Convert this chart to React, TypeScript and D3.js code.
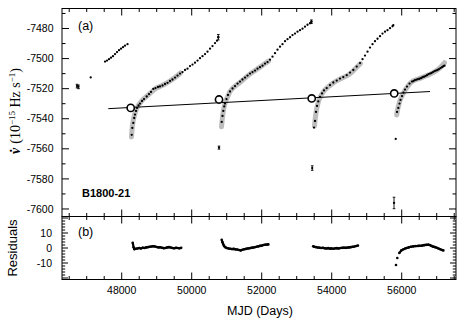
import React from "react";
import * as d3 from "d3";

const W = 466, H = 326;
const L = 62, R = 456, TA = 8.5, BA = 216.5, BB = 279.5;

// ---- data (MJD, nu-dot in 1e-15 Hz/s) ----
const seg0: [number, number][] = [
  [47114, -7512.5],
  [47523, -7502.0], [47580, -7501.3], [47637, -7500.4], [47694, -7499.4], [47751, -7498.4],
  [47809, -7497.0], [47866, -7495.7], [47923, -7494.4], [47980, -7493.4], [48037, -7492.4],
  [48094, -7491.4], [48166, -7490.4],
];
const seg1: [number, number][] = [
  [48286, -7550.7], [48303, -7546.1], [48331, -7542.8], [48357, -7539.5], [48380, -7537.2],
  [48409, -7534.8], [48437, -7532.8], [48480, -7531.2], [48523, -7529.9], [48580, -7528.2],
  [48637, -7526.9], [48714, -7525.2], [48780, -7523.6], [48837, -7522.2], [48903, -7520.2],
  [48966, -7519.6], [49037, -7518.9], [49094, -7518.5], [49166, -7517.9], [49237, -7516.9],
  [49309, -7516.1], [49380, -7514.9], [49451, -7513.9], [49523, -7512.6], [49594, -7511.3],
  [49666, -7510.0], [49737, -7509.0], [49809, -7507.6], [49880, -7506.7], [49951, -7505.0],
  [50023, -7504.0], [50094, -7502.7], [50166, -7501.3], [50237, -7499.7], [50309, -7498.4],
  [50380, -7497.0], [50451, -7495.4], [50523, -7493.4], [50594, -7491.7], [50666, -7489.7],
  [50723, -7488.1], [50760, -7485.8],
];
const seg2: [number, number][] = [
  [50857, -7542.1], [50880, -7538.1], [50903, -7534.8], [50929, -7531.8], [50951, -7529.9],
  [50994, -7526.9], [51037, -7524.2], [51094, -7521.9], [51166, -7519.9], [51237, -7518.3],
  [51309, -7516.6], [51380, -7515.3], [51451, -7513.9], [51523, -7512.6], [51594, -7511.3],
  [51666, -7510.0], [51737, -7509.0], [51809, -7508.0], [51880, -7506.7], [51951, -7505.7],
  [52023, -7504.7], [52094, -7503.3], [52166, -7502.3], [52237, -7500.7], [52309, -7498.7],
  [52380, -7496.4], [52451, -7494.1], [52523, -7492.1], [52594, -7490.4], [52666, -7488.4],
  [52737, -7487.1], [52809, -7485.8], [52880, -7484.4], [52951, -7483.4], [53023, -7482.1],
  [53094, -7481.1], [53166, -7480.1], [53237, -7478.8], [53309, -7477.5], [53380, -7476.5],
  [53420, -7475.5],
];
const seg3: [number, number][] = [
  [53494, -7545.9], [53523, -7541.5], [53551, -7535.5], [53580, -7531.5], [53617, -7528.5],
  [53666, -7525.5], [53723, -7523.2], [53780, -7521.2], [53857, -7519.6], [53951, -7517.6],
  [54046, -7515.9], [54143, -7514.6], [54237, -7513.3], [54331, -7512.3], [54429, -7511.0],
  [54523, -7509.3], [54617, -7507.6], [54714, -7505.3], [54809, -7503.0], [54880, -7500.4],
  [54951, -7498.0], [55023, -7495.4], [55094, -7492.7], [55166, -7490.4], [55237, -7488.4],
  [55309, -7486.8], [55380, -7485.1], [55451, -7483.4], [55523, -7482.1], [55594, -7481.1],
  [55666, -7479.8], [55737, -7478.5], [55760, -7477.8],
];
const seg4: [number, number][] = [
  [55829, -7553.4], [55866, -7535.5], [55903, -7532.8], [55937, -7529.9], [55966, -7527.5],
  [56009, -7524.9], [56051, -7522.6], [56094, -7520.6], [56151, -7518.6], [56223, -7516.6],
  [56294, -7515.3], [56337, -7514.9], [56380, -7514.3], [56423, -7514.0], [56466, -7513.6],
  [56509, -7513.4], [56551, -7513.0], [56594, -7512.4], [56637, -7512.0], [56680, -7511.6],
  [56723, -7511.0], [56766, -7510.4], [56809, -7510.0], [56851, -7509.6], [56894, -7509.0],
  [56937, -7508.4], [56980, -7508.0], [57023, -7507.6], [57066, -7507.0], [57109, -7506.3],
  [57151, -7505.7], [57190, -7505.1], [57223, -7504.7],
];
// points with error bars: [MJD, nu-dot, error]
const errPoints: [number, number, number][] = [
  [46723, -7518.3, 1.2], [46766, -7518.8, 1.2],
  [50780, -7559.2, 1.0], [53443, -7572.8, 1.5], [55780, -7596.0, 3.8],
  [50760, -7485.8, 1.8], [53420, -7475.5, 1.2],
];
// grey model curves after each glitch
const fit1: [number, number][] = [
  [48280, -7552.1], [48294, -7547.4], [48323, -7542.1], [48366, -7537.5], [48423, -7533.5],
  [48494, -7530.5], [48580, -7527.9], [48694, -7525.5], [48809, -7523.2], [48951, -7520.2],
  [49094, -7518.5], [49237, -7516.9], [49380, -7514.9], [49523, -7512.6], [49680, -7509.6],
];
const fit2: [number, number][] = [
  [50851, -7545.4], [50871, -7540.8], [50903, -7534.8], [50937, -7531.2], [50980, -7527.9],
  [51037, -7524.9], [51094, -7521.9], [51180, -7519.6], [51294, -7517.3], [51409, -7515.3],
  [51523, -7513.0], [51666, -7510.3], [51809, -7508.0], [51951, -7505.7], [52094, -7503.3],
  [52194, -7501.7],
];
const fit3: [number, number][] = [
  [53509, -7544.8], [53529, -7540.1], [53560, -7534.8], [53594, -7530.9], [53637, -7527.5],
  [53694, -7524.6], [53780, -7521.6], [53894, -7518.9], [54037, -7516.3], [54180, -7514.3],
  [54323, -7512.6], [54466, -7511.0], [54609, -7508.3], [54751, -7505.0], [54823, -7503.3],
];
const fit4: [number, number][] = [
  [55857, -7537.5], [55880, -7534.2], [55914, -7530.9], [55951, -7527.9], [56009, -7524.9],
  [56066, -7522.2], [56137, -7519.6], [56223, -7516.9], [56323, -7514.9], [56466, -7513.6],
  [56609, -7512.3], [56751, -7511.0], [56894, -7509.3], [57037, -7507.3], [57180, -7504.0],
  [57223, -7502.7],
];
// long-term trend line and glitch epochs on it
const trendMJD = [47617, 56809];
const trendNu = [-7533.3, -7521.9];
const glitchMJD = [48257, 50780, 53429, 55786];
const glitchNu = [-7532.8, -7527.2, -7526.5, -7523.2];

// residuals (panel b)
const res1: [number, number][] = [
  [48314, 3.5], [48340, 0.5], [48360, -0.8], [48400, -0.5], [48450, -0.3], [48500, 0.0],
  [48550, -0.3], [48600, 0.2], [48650, 0.0], [48700, 0.4], [48750, 0.6], [48800, 0.8],
  [48850, 1.0], [48900, 1.2], [48950, 1.0], [49000, 0.7], [49050, 0.4], [49100, 0.5],
  [49150, 0.2], [49200, -0.1], [49250, 0.0], [49300, 0.4], [49350, 0.6], [49400, 0.3],
  [49450, 0.0], [49500, -0.2], [49550, 0.1], [49600, 0.0], [49650, -0.2], [49700, 0.1],
];
const res2: [number, number][] = [
  [50857, 5.5], [50880, 3.8], [50903, 2.3], [50930, 1.2], [50960, 0.5], [51000, 0.0],
  [51050, -0.3], [51100, -0.5], [51150, -0.7], [51200, -0.6], [51250, -0.9], [51300, -1.0],
  [51350, -1.3], [51400, -1.6], [51450, -1.2], [51500, -0.8], [51550, -0.6], [51600, -0.3],
  [51650, -0.2], [51700, 0.1], [51750, 0.3], [51800, 0.5], [51850, 0.8], [51900, 1.1],
  [51950, 1.4], [52000, 1.6], [52050, 2.0], [52100, 2.2], [52150, 2.3], [52190, 2.4],
];
const res3: [number, number][] = [
  [53470, 1.2], [53500, 0.8], [53550, 0.6], [53600, 0.3], [53650, 0.2], [53700, 0.0],
  [53750, 0.1], [53800, -0.2], [53850, -0.3], [53900, -0.1], [53950, -0.4], [54000, -0.3],
  [54050, -0.5], [54100, -0.2], [54150, -0.1], [54200, -0.3], [54250, 0.0], [54300, 0.1],
  [54350, 0.2], [54400, 0.1], [54450, 0.3], [54500, 0.4], [54550, 0.6], [54600, 0.8],
  [54650, 1.0], [54700, 1.3], [54750, 1.6],
];
const res4: [number, number][] = [
  [55837, -11.3], [55874, -6.7], [55930, -3.3], [55990, -1.6], [56050, -0.8], [56100, -0.3],
  [56140, 0.0], [56200, 0.4], [56260, 0.8], [56330, 1.1], [56400, 1.3], [56470, 1.4],
  [56520, 1.5], [56580, 1.6], [56640, 1.9], [56700, 2.1], [56760, 2.2], [56800, 2.0],
  [56850, 1.4], [56900, 0.9], [56950, 0.6], [57000, 0.2], [57050, -0.3], [57100, -0.8],
  [57150, -1.3], [57190, -1.6],
];

const xTickLabels = [48000, 50000, 52000, 54000, 56000];
const yTickLabelsA = [-7600, -7580, -7560, -7540, -7520, -7500, -7480];
const yTickLabelsB = [-10, 0, 10];

const FONT = "'Liberation Sans', Arial, Helvetica, sans-serif";
const SERIF = "'Liberation Serif', 'Times New Roman', serif";

export default function App() {
  const x = d3.scaleLinear().domain([46294, 57551]).range([L, R]);
  const yA = d3.scaleLinear().domain([-7605, -7466.7]).range([BA, TA]);
  const yB = d3.scaleLinear().domain([-21, 21]).range([BB, BA]);

  const dataSegs = [seg0, seg1, seg2, seg3, seg4];
  const fits = [fit1, fit2, fit3, fit4];
  const resSegs = [res1, res2, res3, res4];

  const fitLine = d3.line<[number, number]>().x(d => x(d[0])).y(d => yA(d[1])).curve(d3.curveMonotoneX);

  const xMinor = d3.range(46500, 57501, 500);
  const yAMinor = d3.range(-7600, -7466, 10);
  const yBMinor = d3.range(-20, 21, 2);

  const ticks: JSX.Element[] = [];
  xMinor.forEach((v, i) => {
    const px = x(v);
    const len = v % 2000 === 0 ? 7 : 3.5;
    ticks.push(<line key={"xt" + i} x1={px} x2={px} y1={TA} y2={TA + len} />);
    ticks.push(<line key={"xa" + i} x1={px} x2={px} y1={BA} y2={BA - len} />);
    ticks.push(<line key={"xb" + i} x1={px} x2={px} y1={BA} y2={BA + len} />);
    ticks.push(<line key={"xc" + i} x1={px} x2={px} y1={BB} y2={BB - len} />);
  });
  yAMinor.forEach((v, i) => {
    const py = yA(v);
    const len = v % 20 === 0 ? 7 : 3.5;
    ticks.push(<line key={"yl" + i} x1={L} x2={L + len} y1={py} y2={py} />);
    ticks.push(<line key={"yr" + i} x1={R} x2={R - len} y1={py} y2={py} />);
  });
  yBMinor.forEach((v, i) => {
    const py = yB(v);
    const len = v % 10 === 0 ? 6 : 3.2;
    ticks.push(<line key={"bl" + i} x1={L} x2={L + len} y1={py} y2={py} />);
    ticks.push(<line key={"br" + i} x1={R} x2={R - len} y1={py} y2={py} />);
  });

  // residual connecting paths (join close neighbours only)
  const resPaths: string[] = [];
  resSegs.forEach(seg => {
    let d = "";
    seg.forEach((p, i) => {
      const px = x(p[0]), py = yB(p[1]);
      if (i > 0) {
        const q = seg[i - 1];
        const dist = Math.hypot(px - x(q[0]), py - yB(q[1]));
        d += dist < 5 ? `L${px},${py}` : `M${px},${py}`;
      } else d += `M${px},${py}`;
    });
    resPaths.push(d);
  });

  return (
    <svg width={W} height={H} style={{ position: "absolute", left: 0, top: 0, background: "#fff" }}>
      {/* grey model fits */}
      {fits.map((f, i) => (
        <path key={"f" + i} d={fitLine(f) || ""} fill="none" stroke="#bdbdbd" strokeWidth={5} strokeLinecap="round" />
      ))}
      {/* trend line */}
      <line x1={x(trendMJD[0])} y1={yA(trendNu[0])} x2={x(trendMJD[1])} y2={yA(trendNu[1])} stroke="#000" strokeWidth={1} />
      {/* glitch epoch circles */}
      {glitchMJD.map((m, i) => (
        <circle key={"c" + i} cx={x(m)} cy={yA(glitchNu[i])} r={3.6} fill="#fff" stroke="#000" strokeWidth={1.6} />
      ))}
      {/* data dots */}
      {dataSegs.map((s, si) =>
        s.map((p, i) => <circle key={`d${si}_${i}`} cx={x(p[0])} cy={yA(p[1])} r={1.15} fill="#000" />)
      )}
      {errPoints.map((p, i) => {
        const px = x(p[0]);
        return (
          <g key={"e" + i} stroke="#000" strokeWidth={0.9}>
            <line x1={px} x2={px} y1={yA(p[1] - p[2])} y2={yA(p[1] + p[2])} />
            <line x1={px - 1.3} x2={px + 1.3} y1={yA(p[1] - p[2])} y2={yA(p[1] - p[2])} />
            <line x1={px - 1.3} x2={px + 1.3} y1={yA(p[1] + p[2])} y2={yA(p[1] + p[2])} />
            <circle cx={px} cy={yA(p[1])} r={1.15} fill="#000" stroke="none" />
          </g>
        );
      })}
      {/* residuals */}
      {resPaths.map((d, i) => (
        <path key={"rp" + i} d={d} fill="none" stroke="#000" strokeWidth={2.2} strokeLinejoin="round" />
      ))}
      {resSegs.map((s, si) =>
        s.map((p, i) => <circle key={`r${si}_${i}`} cx={x(p[0])} cy={yB(p[1])} r={1.3} fill="#000" />)
      )}
      {/* frames */}
      <g stroke="#000" strokeWidth={1} fill="none">
        <rect x={L} y={TA} width={R - L} height={BA - TA} />
        <rect x={L} y={BA} width={R - L} height={BB - BA} />
        {ticks}
      </g>
      {/* tick labels */}
      <g fontFamily={FONT} fontSize={10.5} fill="#000">
        {yTickLabelsA.map(v => (
          <text key={"la" + v} x={53.5} y={yA(v)} dy="0.35em" textAnchor="end">{String(v)}</text>
        ))}
        {yTickLabelsB.map(v => (
          <text key={"lb" + v} x={52} y={yB(v)} dy="0.35em" textAnchor="end">{String(v)}</text>
        ))}
        {xTickLabels.map(v => (
          <text key={"lx" + v} x={x(v)} y={294} textAnchor="middle">{String(v)}</text>
        ))}
      </g>
      {/* axis titles */}
      <text x={260} y={314.5} textAnchor="middle" fontFamily={FONT} fontSize={12.5}>MJD (Days)</text>
      <text transform="translate(17,248) rotate(-90)" textAnchor="middle" fontFamily={FONT} fontSize={13}>Residuals</text>
      <text transform="translate(20,111) rotate(-90)" textAnchor="middle" fontFamily={SERIF} fontSize={14}>
        <tspan fontStyle="italic" fontWeight="bold">ν</tspan>
        <tspan dx={-5.2} fontWeight="bold">˙</tspan>
        <tspan dx={1}> (10</tspan>
        <tspan fontSize={9} dy={-5.5}>−15</tspan>
        <tspan dy={5.5}> Hz s</tspan>
        <tspan fontSize={9} dy={-5.5}>−1</tspan>
        <tspan dy={5.5}>)</tspan>
      </text>
      {/* panel labels */}
      <text x={78} y={29.5} fontFamily={FONT} fontSize={12.5}>(a)</text>
      <text x={78} y={236} fontFamily={FONT} fontSize={12.5}>(b)</text>
      <text x={82} y={196.5} fontFamily={FONT} fontSize={11} fontWeight="bold">B1800-21</text>
    </svg>
  );
}
